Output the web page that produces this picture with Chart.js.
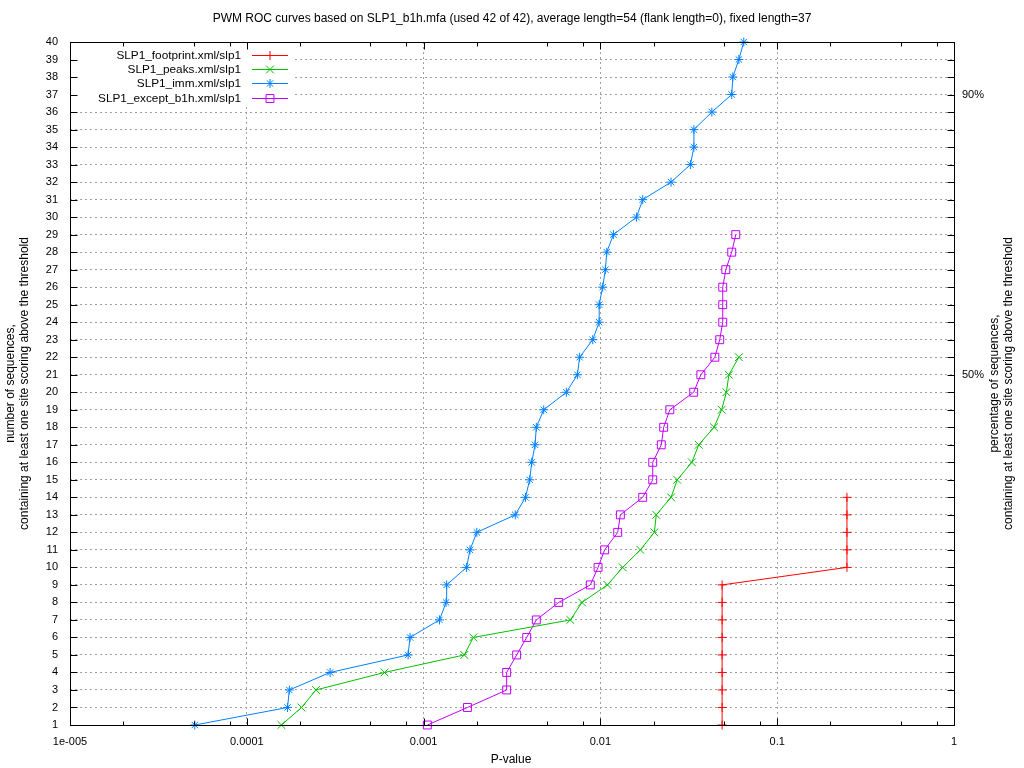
<!DOCTYPE html>
<html>
<head>
<meta charset="utf-8">
<title>PWM ROC curves</title>
<script src="https://cdn.jsdelivr.net/npm/chart.js@4/dist/chart.umd.min.js"></script>
<style>
    html, body { margin: 0; padding: 0; background: #fff; }
    canvas { display: block; }
</style>
</head>
<body>
<canvas id="rocChart" width="1024" height="768"></canvas>
<script>
// Number of sequences (Y axis)
const counts = [1, 2, 3, 4, 5, 6, 7, 8, 9, 10, 11, 12, 13, 14, 15, 16, 17, 18, 19, 20,
    21, 22, 23, 24, 25, 26, 27, 28, 29, 30, 31, 32, 33, 34, 35, 36, 37, 38, 39, 40];

// P-value thresholds for each motif
const footprintP = [0.0488, 0.0488, 0.0488, 0.0488, 0.0488, 0.0488, 0.0488, 0.0488, 0.0488,
    0.248, 0.248, 0.248, 0.248, 0.248];
const peaksP = [0.000157, 0.000204, 0.000246, 0.000601, 0.00170, 0.00191, 0.00676, 0.00787,
    0.01096, 0.01337, 0.01683, 0.0202, 0.0207, 0.0251, 0.0272, 0.0329, 0.0360, 0.0439,
    0.0485, 0.0516, 0.0533, 0.0607];
const immP = [0.0000508, 0.000170, 0.000174, 0.000296, 0.000817, 0.000838, 0.00123, 0.00134,
    0.00135, 0.00175, 0.00183, 0.00200, 0.00330, 0.00377, 0.00398, 0.00409, 0.00427, 0.00434,
    0.00478, 0.00642, 0.00741, 0.00763, 0.00905, 0.00984, 0.00984, 0.0103, 0.01067, 0.01086,
    0.01185, 0.0160, 0.01735, 0.0251, 0.0323, 0.0338, 0.0338, 0.0427, 0.0553, 0.0561,
    0.0607, 0.0647];
const exceptP = [0.00105, 0.00177, 0.00295, 0.00295, 0.00336, 0.00383, 0.00434, 0.00581,
    0.00877, 0.00970, 0.01057, 0.01253, 0.01297, 0.01735, 0.01977, 0.01977, 0.0221, 0.0228,
    0.0247, 0.0337, 0.0370, 0.0444, 0.0473, 0.0492, 0.0492, 0.0492, 0.0512, 0.0553, 0.0583];

// Tick labels
const xTickValues = [0.00001, 0.0001, 0.001, 0.01, 0.1, 1];
const xTickLabels = ['1e-005', '0.0001', '0.001', '0.01', '0.1', '1'];
const xMinorSteps = [2, 5, 8];
const y2TickValues = [21, 37];
const y2TickLabels = ['50%', '90%'];

const seriesNames = ['SLP1_footprint.xml/slp1', 'SLP1_peaks.xml/slp1', 'SLP1_imm.xml/slp1', 'SLP1_except_b1h.xml/slp1'];
const seriesColors = ['#ff0000', '#00c000', '#0080ff', '#c000ff'];
const seriesMarkers = ['cross', 'crossRot', 'star', 'rect'];
const markerRadius = [4.5, 5.5, 4.5, 5.6];

const FONT = "'Liberation Sans', Arial, sans-serif";

// Build {x, y} points from a p-value list
function toPoints(values) {
    return values.map((v, i) => ({ x: v, y: counts[i] }));
}

// Draw a gnuplot-like marker for the key
function drawKeyMarker(ctx, style, x, y, r) {
    ctx.beginPath();
    if (style === 'cross' || style === 'star') {
        ctx.moveTo(x - r, y); ctx.lineTo(x + r, y);
        ctx.moveTo(x, y - r); ctx.lineTo(x, y + r);
    }
    if (style === 'crossRot' || style === 'star') {
        const d = r * Math.SQRT1_2;
        ctx.moveTo(x - d, y - d); ctx.lineTo(x + d, y + d);
        ctx.moveTo(x - d, y + d); ctx.lineTo(x + d, y - d);
    }
    if (style === 'rect') {
        const s = r * Math.SQRT1_2;
        ctx.rect(x - s, y - s, 2 * s, 2 * s);
    }
    ctx.stroke();
}

// Frame, inward ticks, key and text labels (gnuplot look)
const gnuplotDecor = {
    id: 'gnuplotDecor',
    afterDraw(chart) {
        const ctx = chart.ctx;
        const a = chart.chartArea;
        const xs = chart.scales.x;
        const ys = chart.scales.y;
        ctx.save();

        // key box (covers grid)
        ctx.fillStyle = '#fff';
        ctx.fillRect(a.left + 1, a.top + 1, 222, 62);
        ctx.font = '11.8px ' + FONT;
        ctx.textBaseline = 'middle';
        ctx.textAlign = 'right';
        ctx.lineWidth = 1;
        seriesNames.forEach((name, i) => {
            const ky = Math.round(a.top + 13 + i * 14.2) + 0.5;
            ctx.fillStyle = '#000';
            ctx.fillText(name, 241, ky);
            ctx.strokeStyle = seriesColors[i];
            ctx.beginPath();
            ctx.moveTo(252, ky); ctx.lineTo(288, ky);
            ctx.stroke();
            drawKeyMarker(ctx, seriesMarkers[i], 270, ky, markerRadius[i]);
        });

        // frame
        ctx.strokeStyle = '#000';
        ctx.lineWidth = 1;
        const L = Math.round(a.left) + 0.5, R = Math.round(a.right) + 0.5;
        const T = Math.round(a.top) + 0.5, B = Math.round(a.bottom) + 0.5;
        ctx.strokeRect(L, T, R - L, B - T);

        // y ticks (left and mirrored right)
        ctx.beginPath();
        counts.forEach(v => {
            const py = Math.round(ys.getPixelForValue(v)) + 0.5;
            ctx.moveTo(L, py); ctx.lineTo(L + 7, py);
            ctx.moveTo(R, py); ctx.lineTo(R - 7, py);
        });
        // x major and minor ticks (bottom and mirrored top)
        xTickValues.forEach((v, i) => {
            const px = Math.round(xs.getPixelForValue(v)) + 0.5;
            ctx.moveTo(px, B); ctx.lineTo(px, B - 7);
            ctx.moveTo(px, T); ctx.lineTo(px, T + 7);
            if (i < xTickValues.length - 1) {
                xMinorSteps.forEach(m => {
                    const mx = Math.round(xs.getPixelForValue(v * m)) + 0.5;
                    ctx.moveTo(mx, B); ctx.lineTo(mx, B - 4);
                    ctx.moveTo(mx, T); ctx.lineTo(mx, T + 4);
                });
            }
        });
        ctx.stroke();

        // title and axis titles
        ctx.fillStyle = '#000';
        ctx.textAlign = 'center';
        ctx.font = '12px ' + FONT;
        ctx.fillText('PWM ROC curves based on SLP1_b1h.mfa (used 42 of 42), average length=54 (flank length=0), fixed length=37', 512, 19);
        ctx.fillText('P-value', 511, 760);

        const midY = (a.top + a.bottom) / 2;
        ctx.save();
        ctx.translate(11, midY);
        ctx.rotate(-Math.PI / 2);
        ctx.fillText('number of sequences,', 0, 0);
        ctx.fillText('containing at least one site scoring above the threshold', 0, 13.5);
        ctx.restore();

        ctx.save();
        ctx.translate(995, midY);
        ctx.rotate(-Math.PI / 2);
        ctx.fillText('percentage of sequences,', 0, 0);
        ctx.fillText('containing at least one site scoring above the threshold', 0, 13.5);
        ctx.restore();

        ctx.restore();
    }
};

// Draw the ROC chart
function drawRocChart() {
    const ctx = document.getElementById('rocChart').getContext('2d');
    const datasets = [footprintP, peaksP, immP, exceptP].map((values, i) => ({
        label: seriesNames[i],
        data: toPoints(values),
        showLine: true,
        borderColor: seriesColors[i],
        backgroundColor: 'rgba(0,0,0,0)',
        borderWidth: 1,
        tension: 0,
        pointStyle: seriesMarkers[i],
        pointRadius: markerRadius[i],
        pointHoverRadius: markerRadius[i],
        pointBorderColor: seriesColors[i],
        pointBackgroundColor: 'rgba(0,0,0,0)',
        pointBorderWidth: 1,
        clip: false
    }));

    const gridColor = (edges) => (c) => (c.tick && edges.includes(c.tick.value)) ? 'rgba(0,0,0,0)' : '#a0a0a0';

    new Chart(ctx, {
        type: 'scatter',
        data: { datasets: datasets },
        plugins: [gnuplotDecor],
        options: {
            responsive: false,
            animation: false,
            devicePixelRatio: 1,
            layout: { padding: { top: 42, left: 0, right: 0, bottom: 0 } },
            plugins: {
                legend: { display: false },
                title: { display: false },
                tooltip: { enabled: false }
            },
            scales: {
                x: {
                    type: 'logarithmic',
                    position: 'bottom',
                    min: 0.00001,
                    max: 1,
                    afterBuildTicks: (scale) => { scale.ticks = xTickValues.map(v => ({ value: v })); },
                    afterFit: (scale) => { scale.height = 43; },
                    ticks: {
                        autoSkip: false,
                        maxRotation: 0,
                        padding: 10,
                        color: '#000',
                        font: { family: FONT, size: 11 },
                        callback: (value, index) => xTickLabels[index]
                    },
                    grid: { drawTicks: false, lineWidth: 1, color: gridColor([0.00001, 1]) },
                    border: { display: false, dash: [2, 3] }
                },
                y: {
                    type: 'linear',
                    position: 'left',
                    min: 1,
                    max: 40,
                    afterBuildTicks: (scale) => { scale.ticks = counts.map(v => ({ value: v })); },
                    afterFit: (scale) => { scale.width = 70; },
                    ticks: {
                        autoSkip: false,
                        padding: 12,
                        color: '#000',
                        font: { family: FONT, size: 11 }
                    },
                    grid: { drawTicks: false, lineWidth: 1, color: gridColor([1, 40]) },
                    border: { display: false, dash: [2, 3] }
                },
                y2: {
                    type: 'linear',
                    position: 'right',
                    min: 1,
                    max: 40,
                    afterBuildTicks: (scale) => { scale.ticks = y2TickValues.map(v => ({ value: v })); },
                    afterFit: (scale) => { scale.width = 70; },
                    ticks: {
                        autoSkip: false,
                        padding: 8,
                        color: '#000',
                        font: { family: FONT, size: 11 },
                        callback: (value, index) => y2TickLabels[index]
                    },
                    grid: { display: false, drawTicks: false },
                    border: { display: false }
                }
            }
        }
    });
}

document.addEventListener('DOMContentLoaded', drawRocChart);
</script>
</body>
</html>
